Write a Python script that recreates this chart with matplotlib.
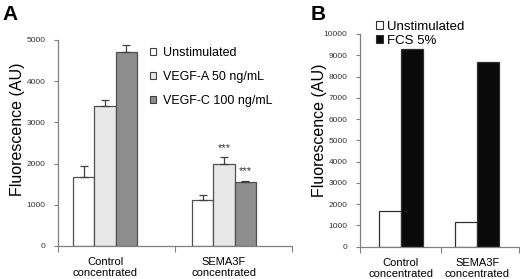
import numpy as np
import matplotlib
matplotlib.use("Agg")
import matplotlib.pyplot as plt
from matplotlib.patches import Patch

plt.rcParams['font.family'] = ['Liberation Sans', 'DejaVu Sans']

# panel A data
groups_a = ["Control\nconcentrated", "SEMA3F\nconcentrated"]
series_a = ["Unstimulated", "VEGF-A 50 ng/mL", "VEGF-C 100 ng/mL"]
vals_a = [[1675, 1115],
          [3400, 1990],
          [4700, 1560]]
errs_a = [[265, 125],
          [140, 160],
          [170, 25]]
colors_a = ["white", "#e8e8e8", "#8e8e8e"]
stars_a = [(1, 1, "***"), (2, 1, "***")]   # (series, group, text)
yticks_a = [0, 1000, 2000, 3000, 4000, 5000]

# panel B data
groups_b = ["Control\nconcentrated", "SEMA3F\nconcentrated"]
series_b = ["Unstimulated", "FCS 5%"]
vals_b = [[1685, 1165],
          [9310, 8700]]
colors_b = ["white", "#0a0a0a"]
yticks_b = list(range(0, 10001, 1000))

W, H = 520, 279
fig = plt.figure(figsize=(W / 100, H / 100), dpi=100)

def px_axes(l, r, b, t):
    return fig.add_axes([l / W, 1 - b / H, (r - l) / W, (b - t) / H])

def style(ax, yticks, xmaj, groups):
    for s in ['top', 'right']:
        ax.spines[s].set_visible(False)
    for s in ['left', 'bottom']:
        ax.spines[s].set_color('#808080')
        ax.spines[s].set_linewidth(0.9)
    ax.set_yticks(yticks)
    ax.set_yticklabels([str(v) for v in yticks], fontsize=6, color='#333333')
    ax.tick_params(axis='y', length=3, width=0.8, color='#808080', pad=6)
    ax.set_xticks(xmaj)
    ax.set_xticklabels([])
    ax.tick_params(axis='x', which='major', length=4, width=0.8, color='#808080')
    ax.set_xticks([0, 1], minor=True)
    ax.set_xticklabels(groups, minor=True, linespacing=1.1)
    ax.tick_params(axis='x', which='minor', length=0, pad=8, labelsize=8)

def ylab(ax, xc, yc):
    ax.set_ylabel("Fluorescence (AU)", fontsize=11.5)
    ax.yaxis.set_label_coords(xc, yc)
    ax.yaxis.label.set_verticalalignment('center')

# ---- A ----
axA = px_axes(58, 292, 246, 40)
x = np.arange(len(groups_a))
wa = 0.18
for i, s in enumerate(series_a):
    pos = x + (i - 1) * wa
    axA.bar(pos, vals_a[i], wa, color=colors_a[i], edgecolor='#505050',
            linewidth=0.9, label=s, zorder=2,
            yerr=[np.zeros(len(x)), errs_a[i]],
            error_kw=dict(ecolor='#404040', elinewidth=0.9, capsize=3, capthick=0.9))
for si, gi, t in stars_a:
    axA.text(x[gi] + (si - 1) * wa, vals_a[si][gi] + errs_a[si][gi] + 110, t,
             ha='center', va='bottom', fontsize=8, color='#333333')
axA.set_xlim(-0.395, 1.571)
axA.set_ylim(0, 5000)
style(axA, yticks_a, [-0.395, 0.588, 1.571], groups_a)
ylab(axA, -0.175, 0.568)
handles = [Patch(facecolor=c, edgecolor='#404040', linewidth=0.8) for c in colors_a]
axA.legend(handles, series_a, loc='upper left', bbox_to_anchor=(150 / W, 1 - 47 / H),
           bbox_transform=fig.transFigure, frameon=False, fontsize=9,
           handlelength=0.5, handleheight=0.5, handletextpad=0.55,
           labelspacing=0.95, borderpad=0, borderaxespad=0)
fig.text(2 / W, 1 - 5 / H, "A", fontsize=15, fontweight='bold', va='top', ha='left')

# ---- B ----
axB = px_axes(360, 519, 246.7, 34)
xb = np.arange(len(groups_b))
wb = 0.29
for i, s in enumerate(series_b):
    pos = xb + (i - 0.5) * wb
    axB.bar(pos, vals_b[i], wb, color=colors_b[i], edgecolor='#303030',
            linewidth=0.9, label=s, zorder=2)
axB.set_xlim(-0.533, 1.546)
axB.set_ylim(0, 10000)
style(axB, yticks_b, [-0.533, 0.52, 1.546], groups_b)
ylab(axB, -0.252, 0.549)
handles = [Patch(facecolor=c, edgecolor='#303030', linewidth=0.8) for c in colors_b]
axB.legend(handles, series_b, loc='upper left', bbox_to_anchor=(376 / W, 1 - 21 / H),
           bbox_transform=fig.transFigure, frameon=False, fontsize=9.5,
           handlelength=0.55, handleheight=0.55, handletextpad=0.3,
           labelspacing=0.15, borderpad=0, borderaxespad=0)
fig.text(311 / W, 1 - 5 / H, "B", fontsize=15, fontweight='bold', va='top', ha='left')

fig.savefig("out.png", dpi=100)
